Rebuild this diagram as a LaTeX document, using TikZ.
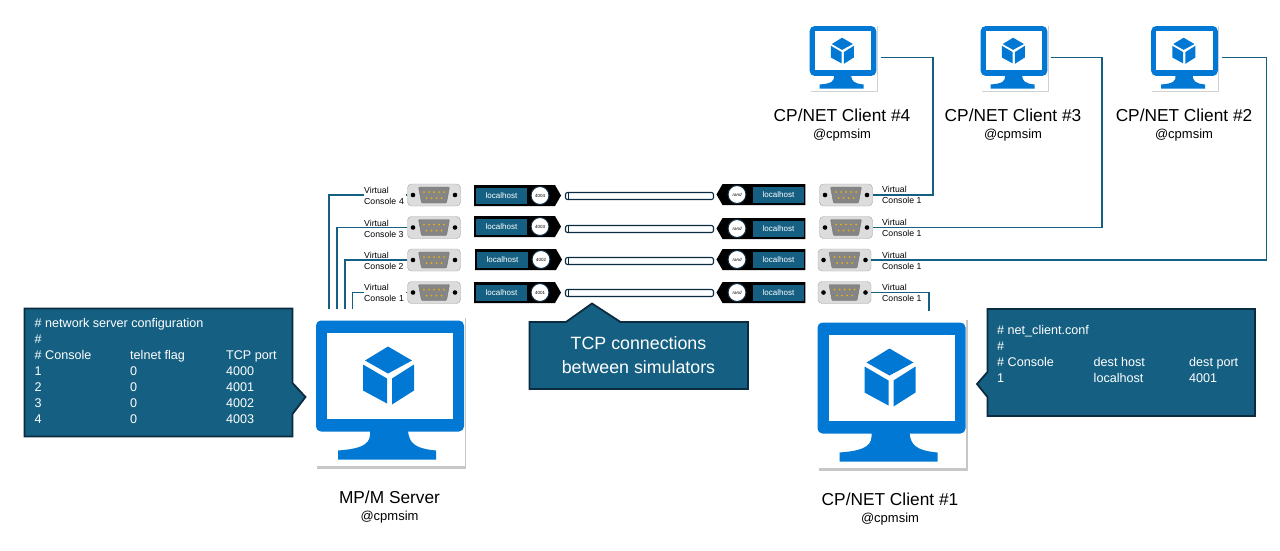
\documentclass[tikz,border=0pt]{standalone}
\usepackage{fontspec}
\setmainfont{Liberation Sans}
\usepackage{array}
\usetikzlibrary{arrows.meta, positioning, shapes.symbols, shadows}
\definecolor{tealbox}{HTML}{156082}
\definecolor{navyline}{HTML}{0B2B40}
\definecolor{iconblue}{HTML}{0078D4}
\definecolor{shellgray}{HTML}{DCDCDC}
\definecolor{platedark}{HTML}{858585}
\definecolor{pinyellow}{HTML}{E8B010}

\begin{document}
\begin{tikzpicture}[
  x=1pt, y=-1pt,
  monitorbox/.style={fill=white, minimum width=149pt, minimum height=151pt, inner sep=0pt, general shadow={fill=black!22, shadow xshift=1.5pt, shadow yshift=-2.5pt}},
  smallbox/.style={fill=white, minimum width=67pt, minimum height=66pt, inner sep=0pt, general shadow={fill=black!18, shadow xshift=1pt, shadow yshift=-1.2pt}},
  serial/.style={draw=black!35, fill=shellgray, rounded corners=4pt, minimum width=53pt, minimum height=22pt, inner sep=0pt},
  tagl/.style={signal, signal to=east, signal from=nowhere, signal pointer angle=120, fill=black, minimum width=87pt, minimum height=21pt, inner sep=0pt},
  tagr/.style={signal, signal to=west, signal from=nowhere, signal pointer angle=120, fill=black, minimum width=89pt, minimum height=21pt, inner sep=0pt},
  hostbox/.style={fill=tealbox, text=white, font=\fontsize{8}{9}\selectfont, minimum height=16pt, inner sep=0pt},
  portdot/.style={circle, draw=navyline, line width=1pt, fill=white, minimum size=18pt, inner sep=0pt, font=\fontsize{4.5}{5}\selectfont},
  tube/.style={draw=navyline, line width=1.1pt, fill=white, rounded corners=2pt, minimum width=148pt, minimum height=7pt, inner sep=0pt,
    path picture={\draw[navyline, line width=1pt] ([xshift=2.5pt]path picture bounding box.north west) -- ([xshift=2.5pt]path picture bounding box.south west);}},
  vlabel/.style={align=left, anchor=west, inner sep=0pt, font=\fontsize{8.7}{11}\selectfont},
  vlabelfill/.style={vlabel, fill=white, text width=42pt},
  wire/.style={draw=tealbox, line width=1.8pt},
  cfgbox/.style={draw=navyline, fill=tealbox, line width=1.8pt, line join=miter},
  cfgtext/.style={text=white, anchor=north west, inner sep=0pt, font=\fontsize{12.6}{16}\selectfont},
  bigname/.style={font=\fontsize{17.3}{20}\selectfont, inner sep=0pt},
  smallname/.style={font=\fontsize{13}{15}\selectfont, inner sep=0pt},
  monitor/.pic={
    \fill[iconblue, rounded corners=5pt] (-74,-70) rectangle (74,41);
    \fill[white] (-63,-58) rectangle (63,28);
    \fill[iconblue] (-20,40) .. controls (-19,52) and (-24,58) .. (-52,60) -- (-52,69) -- (46,69) -- (46,60) .. controls (24,58) and (19,52) .. (18,40) -- cycle;
    \fill[iconblue] (-2,-44) -- (22,-30) -- (-2,-17) -- (-25,-30) -- cycle;
    \fill[iconblue] (-27,-26) -- (-3,-12) -- (-3,13) -- (-27,0) -- cycle;
    \fill[iconblue] (2,-12) -- (24,-26) -- (24,0) -- (2,14) -- cycle;
  },
  dsub/.pic={
    \draw[black!55, fill=platedark, rounded corners=1pt] (-15.5,-8) -- (15.5,-8) -- (12.5,8) -- (-12.5,8) -- cycle;
    \fill[black] (-21,0) circle (2.3pt);
    \fill[black] (21,0) circle (2.3pt);
    \foreach \px in {-10,-5,0,5,10} \fill[pinyellow] (\px,-3) circle (1pt);
    \foreach \px in {-7.5,-2.5,2.5,7.5} \fill[pinyellow] (\px,3) circle (1pt);
  }
]
\path[use as bounding box, fill=white] (0,0) rectangle (1280,550);

% wires go first
\node[serial] (sl4) at (434,195) {};
\node[serial] (sl3) at (434,227.5) {};
\node[serial] (sl2) at (434,260) {};
\node[serial] (sl1) at (434,292.5) {};
\node[serial] (sr4) at (846,195) {};
\node[serial] (sr3) at (846,227.5) {};
\node[serial] (sr2) at (844.5,260) {};
\node[serial] (sr1) at (844.5,292.5) {};

\node[monitorbox] (server) at (390,390.5) {};
\node[monitorbox] (client1) at (891.5,392.5) {};
\node[smallbox] (client4) at (843,57.5) {};
\node[smallbox] (client3) at (1014,57.5) {};
\node[smallbox] (client2) at (1184.5,57.5) {};

\coordinate (drop4) at (329,309);
\coordinate (drop3) at (337,309);
\coordinate (drop2) at (345,309);
\coordinate (drop1) at (352.5,309);
\coordinate (drop0) at (929,311);
\coordinate (bend4) at (933,57.5);
\coordinate (bend3) at (1102,57.5);
\coordinate (bend2) at (1266.5,57.5);

\draw[wire] (sl4.west) -| (drop4);
\draw[wire] (sl3.west) -| (drop3);
\draw[wire] (sl2.west) -| (drop2);
\draw[wire] (sl1.west) -| (drop1);
\draw[wire] (sr1.east) -| (drop0);
\draw[wire, shorten <=4pt] (client4.east) -- (bend4) |- (sr4.east);
\draw[wire, shorten <=3pt] (client3.east) -- (bend3) |- (sr3.east);
\draw[wire, shorten <=4pt] (client2.east) -- (bend2) |- (sr2.east);

\pic at (server) {monitor};
\pic at (client1) {monitor};
\pic[scale=0.45] at (client4) {monitor};
\pic[scale=0.45] at (client3) {monitor};
\pic[scale=0.45] at (client2) {monitor};

\pic at (sl4) {dsub};
\pic at (sl3) {dsub};
\pic at (sl2) {dsub};
\pic at (sl1) {dsub};
\pic at (sr4) {dsub};
\pic at (sr3) {dsub};
\pic at (sr2) {dsub};
\pic at (sr1) {dsub};

\node[vlabelfill] (vl4) at (364,195.5) {Virtual\\Console 4};
\node[vlabel] (vl3) at (364,228.5) {Virtual\\Console 3};
\node[vlabel] (vl2) at (364,260.5) {Virtual\\Console 2};
\node[vlabelfill] (vl1) at (364,292.5) {Virtual\\Console 1};
\node[vlabel] (vr4) at (882,194.5) {Virtual\\Console 1};
\node[vlabel] (vr3) at (882,227.5) {Virtual\\Console 1};
\node[vlabel] (vr2) at (882,260.5) {Virtual\\Console 1};
\node[vlabel] (vr1) at (882,292.5) {Virtual\\Console 1};

\node[tagl] (tl4) at (514.5,195.5) {};
\node[tagl] (tl3) at (514.5,226.5) {};
\node[tagl] (tl2) at (515.5,259.5) {};
\node[tagl] (tl1) at (514.5,292.5) {};
\node[tagr] (tr4) at (764,194.5) {};
\node[tagr] (tr3) at (764,228.5) {};
\node[tagr] (tr2) at (764,259.5) {};
\node[tagr] (tr1) at (764,292.5) {};

\node[hostbox, minimum width=51pt] (hl4) at (501.5,195.5) {localhost};
\node[hostbox, minimum width=51pt] (hl3) at (501.5,226.5) {localhost};
\node[hostbox, minimum width=51pt] (hl2) at (502.5,259.5) {localhost};
\node[hostbox, minimum width=51pt] (hl1) at (501.5,292.5) {localhost};
\node[hostbox, minimum width=51pt] (hr4) at (778.5,194.5) {localhost};
\node[hostbox, minimum width=51pt] (hr3) at (778.5,228.5) {localhost};
\node[hostbox, minimum width=51pt] (hr2) at (778.5,259.5) {localhost};
\node[hostbox, minimum width=51pt] (hr1) at (778.5,292.5) {localhost};

\node[portdot] (pl4) at (540,195.5) {4004};
\node[portdot] (pl3) at (540,226.5) {4003};
\node[portdot] (pl2) at (541,259.5) {4002};
\node[portdot] (pl1) at (540,292.5) {4001};
\node[portdot] (pr4) at (737,194.5) {\itshape rand};
\node[portdot] (pr3) at (737,228.5) {\itshape rand};
\node[portdot] (pr2) at (737,259.5) {\itshape rand};
\node[portdot] (pr1) at (737,292.5) {\itshape rand};

\node[tube] (tube4) at (639.5,196) {};
\node[tube] (tube3) at (639.5,229) {};
\node[tube] (tube2) at (639.5,261) {};
\node[tube] (tube1) at (639.5,293) {};

% name labels
\node[bigname] (nameserver) at (389.5,497) {MP/M Server};
\node[smallname] (atserver) at (389.5,517) {@cpmsim};
\node[bigname] (nameclient1) at (890,499) {CP/NET Client \#1};
\node[smallname] (atclient1) at (890,519) {@cpmsim};
\node[bigname] (nameclient4) at (842,115) {CP/NET Client \#4};
\node[smallname] (atclient4) at (842,135) {@cpmsim};
\node[bigname] (nameclient3) at (1013,115) {CP/NET Client \#3};
\node[smallname] (atclient3) at (1013,135) {@cpmsim};
\node[bigname] (nameclient2) at (1184,115) {CP/NET Client \#2};
\node[smallname] (atclient2) at (1184,135) {@cpmsim};

% callouts
\draw[cfgbox] (24.5,308.5) -- (292.5,308.5) -- (292.5,383) -- (305.5,397) -- (292.5,414) -- (292.5,436.5) -- (24.5,436.5) -- cycle;
\node[cfgtext] (servercfg) at (34.5,316.5) {%
  \begin{tabular}{@{}p{95.5pt}@{}p{96pt}@{}l@{}}
  \multicolumn{3}{@{}l}{\# network server configuration}\\
  \#\\
  \# Console & telnet flag & TCP port\\
  1 & 0 & 4000\\
  2 & 0 & 4001\\
  3 & 0 & 4002\\
  4 & 0 & 4003
  \end{tabular}};

\draw[cfgbox] (987.5,309) -- (1255,309) -- (1255,416) -- (987.5,416) -- (987.5,397) -- (977,384) -- (987.5,372) -- cycle;
\node[cfgtext] (clientcfg) at (997,323) {%
  \begin{tabular}{@{}p{96.5pt}@{}p{95.5pt}@{}l@{}}
  \multicolumn{3}{@{}l}{\# net\_client.conf}\\
  \#\\
  \# Console & dest host & dest port\\
  1 & localhost & 4001
  \end{tabular}};

\draw[cfgbox] (529.5,322) -- (566,322) -- (592,303.5) -- (620.5,322) -- (748,322) -- (748,389) -- (529.5,389) -- cycle;
\node[text=white, align=center, inner sep=0pt, font=\fontsize{17.8}{23.5}\selectfont] (tcpnote) at (638.5,355) {TCP connections\\between simulators};
\end{tikzpicture}
\end{document}
